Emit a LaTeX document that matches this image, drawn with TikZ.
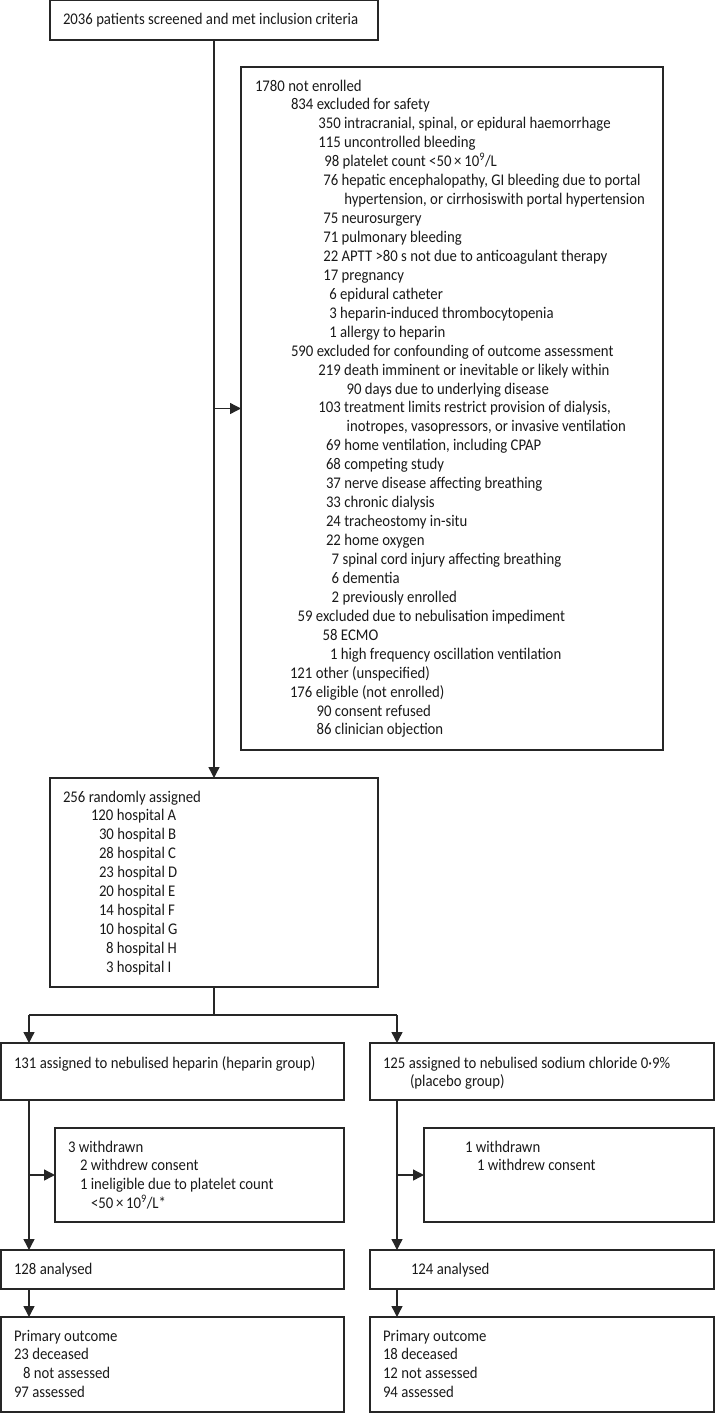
\documentclass[tikz,border=0pt]{standalone}
\usepackage{fontspec}
\setmainfont[FakeStretch=0.905]{Carlito}
\usetikzlibrary{arrows.meta}
\newcommand{\fs}{\fontsize{16.3pt}{18.94pt}\selectfont}
\newcommand{\Li}[2]{\hbox{\kern#1pt\relax #2}}
\newcommand{\plt}{<50\thinspace×\thinspace10\textsuperscript{9}/L}
\tikzset{
  box/.style={draw=black!85, line width=1.4pt, rectangle, inner sep=0pt, outer sep=0pt},
  txt/.style={inner sep=0pt, outer sep=0pt, anchor=base west, font=\fs, text=black!90},
  conn/.style={draw=black!85, line width=1.4pt},
  arr/.style={conn, -{Triangle[length=11pt,width=11pt]}}
}
\begin{document}
\begin{tikzpicture}[x=1pt,y=-1pt]
\useasboundingbox (0,0) rectangle (715,1413);
% boxes
\node[box, minimum width=328pt, minimum height=39.3pt] (top) at (214,20.35) {};
\node[box, minimum width=422pt, minimum height=683pt] (excl) at (452,408.5) {};
\node[box, minimum width=328pt, minimum height=209pt] (rand) at (214,882.5) {};
\node[box, minimum width=343pt, minimum height=57pt] (grpL) at (172.5,1071.5) {};
\node[box, minimum width=344pt, minimum height=57pt] (grpR) at (542,1071.5) {};
\node[box, minimum width=289pt, minimum height=94pt] (wdL) at (199.5,1175) {};
\node[box, minimum width=290pt, minimum height=94pt] (wdR) at (569,1175) {};
\node[box, minimum width=343pt, minimum height=39pt] (anL) at (172.5,1269.5) {};
\node[box, minimum width=344pt, minimum height=39pt] (anR) at (542,1269.5) {};
\node[box, minimum width=343pt, minimum height=95pt] (outL) at (172.5,1364.5) {};
\node[box, minimum width=344pt, minimum height=95pt] (outR) at (542,1364.5) {};
% texts
\node[txt] (ttop) at (63,25) {2036 patients screened and met inclusion criteria};
\node[txt] (texcl) at (255,91) {\vtop{%
\Li{0}{1780 not enrolled}
\Li{36}{834 excluded for safety}
\Li{63.3}{350 intracranial, spinal, or epidural haemorrhage}
\Li{63.3}{115 uncontrolled bleeding}
\Li{69.3}{98 platelet count \plt}
\Li{68.3}{76 hepatic encephalopathy, GI bleeding due to portal}
\Li{89.3}{hypertension, or cirrhosiswith portal hypertension}
\Li{68.3}{75 neurosurgery}
\Li{68.3}{71 pulmonary bleeding}
\Li{68.3}{22 APTT >80 s not due to anticoagulant therapy}
\Li{68.3}{17 pregnancy}
\Li{74.3}{6 epidural catheter}
\Li{74.3}{3 heparin-induced thrombocytopenia}
\Li{74.3}{1 allergy to heparin}
\Li{36}{590 excluded for confounding of outcome assessment}
\Li{63.3}{219 death imminent or inevitable or likely within}
\Li{91.7}{90 days due to underlying disease}
\Li{63.3}{103 treatment limits restrict provision of dialysis,}
\Li{91.7}{inotropes, vasopressors, or invasive ventilation}
\Li{71}{69 home ventilation, including CPAP}
\Li{71}{68 competing study}
\Li{71}{37 nerve disease affecting breathing}
\Li{71}{33 chronic dialysis}
\Li{71}{24 tracheostomy in-situ}
\Li{71}{22 home oxygen}
\Li{76.7}{7 spinal cord injury affecting breathing}
\Li{76.7}{6 dementia}
\Li{76.7}{2 previously enrolled}
\Li{42.7}{59 excluded due to nebulisation impediment}
\Li{67.7}{58 ECMO}
\Li{75}{1 high frequency oscillation ventilation}
\Li{35}{121 other (unspecified)}
\Li{35}{176 eligible (not enrolled)}
\Li{61.7}{90 consent refused}
\Li{61.7}{86 clinician objection}}};
\node[txt] (trand) at (63,802) {\vtop{%
\Li{0}{256 randomly assigned}
\Li{28}{120 hospital A}
\Li{36}{30 hospital B}
\Li{36}{28 hospital C}
\Li{36}{23 hospital D}
\Li{36}{20 hospital E}
\Li{36}{14 hospital F}
\Li{36}{10 hospital G}
\Li{43}{8 hospital H}
\Li{43}{3 hospital I}}};
\node[txt] (tgrpL) at (14,1068) {131 assigned to nebulised heparin (heparin group)};
\node[txt] (tgrpR) at (383,1068) {\vtop{%
\Li{0}{125 assigned to nebulised sodium chloride 0·9\%}
\Li{27}{(placebo group)}}};
\node[txt] (twdL) at (68,1152) {\vtop{%
\Li{0}{3 withdrawn}
\Li{12}{2 withdrew consent}
\Li{12}{1 ineligible due to platelet count}
\Li{23}{\plt*}}};
\node[txt] (twdR) at (465,1152) {\vtop{%
\Li{0}{1 withdrawn}
\Li{12}{1 withdrew consent}}};
\node[txt] (tanL) at (14,1274) {128 analysed};
\node[txt] (tanR) at (411,1274) {124 analysed};
\node[txt] (toutL) at (14,1341) {\vtop{%
\Li{0}{Primary outcome}
\Li{0}{23 deceased}
\Li{9}{8 not assessed}
\Li{0}{97 assessed}}};
\node[txt] (toutR) at (383,1341) {\vtop{%
\Li{0}{Primary outcome}
\Li{0}{18 deceased}
\Li{0}{12 not assessed}
\Li{0}{94 assessed}}};
% connectors
\draw[arr] (top) -- (rand);
\draw[arr] (top.south |- excl.west) -- (excl.west);
\coordinate (split) at (214,1015);
\coordinate (jL) at (29,1015);
\coordinate (jR) at (397,1015);
\draw[conn] (rand.south) -- (split);
\draw[conn] (jL) -- (jR);
\draw[arr] (jL) -- (jL |- grpL.north);
\draw[arr] (jR) -- (jR |- grpR.north);
\draw[arr] (grpL.south -| jL) -- (anL.north -| jL);
\draw[arr] (grpR.south -| jR) -- (anR.north -| jR);
\draw[arr] (jL |- wdL.west) -- (wdL.west);
\draw[arr] (jR |- wdR.west) -- (wdR.west);
\draw[arr] (anL.south -| jL) -- (outL.north -| jL);
\draw[arr] (anR.south -| jR) -- (outR.north -| jR);
\end{tikzpicture}
\end{document}
